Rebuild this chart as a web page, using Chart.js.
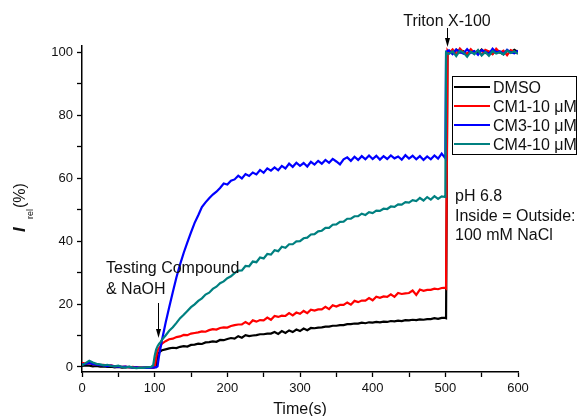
<!DOCTYPE html>
<html>
<head>
<meta charset="utf-8">
<script src="https://cdn.jsdelivr.net/npm/chart.js@4"></script>
<style>
    body { margin: 0; background: #fff; }
    #wrap { width: 577px; height: 416px; position: relative; }
</style>
</head>
<body>
<div id="wrap"><canvas id="chart"></canvas></div>
<script>
// time axis (s): baseline, compound addition, slow rise, Triton X-100 lysis
const timeS = [
    0, 5, 10, 15, 20, 25, 30, 35, 40, 45, 50, 55, 60, 65, 70, 75, 80, 85, 90, 95,
    98, 100, 102, 104, 106, 108, 110,
    115, 120, 125, 130, 135, 140, 145, 150, 155, 160,
    165, 170, 175, 180, 185, 190, 195, 200, 205, 210,
    215, 220, 225, 230, 235, 240, 245, 250, 255, 260,
    265, 270, 275, 280, 285, 290, 295, 300, 305, 310,
    315, 320, 325, 330, 335, 340, 345, 350, 355, 360,
    365, 370, 375, 380, 385, 390, 395, 400, 405, 410,
    415, 420, 425, 430, 435, 440, 445, 450, 455, 460,
    465, 470, 475, 480, 485, 490, 495,
    500, 501, 503,
    505, 510, 515, 520, 525, 530, 535, 540, 545, 550, 555, 560, 565, 570, 575, 580, 585, 590, 595, 600
];

const dmso = [
    0.3, 0.5, 0.4, 0.2, 0.3, 0.1, 0.2, 0.0, 0.1, -0.1, 0.0, -0.2, -0.1, 0.0, -0.2, -0.1, -0.3, -0.2, -0.1, -0.2,
    -0.2, -0.1, 0.5, 4.2, 4.6, 5.0, 5.3,
    5.6, 5.9, 6.1, 6.0, 6.4, 6.6, 6.5, 7.0, 7.1, 7.4,
    7.3, 7.8, 7.9, 8.1, 8.0, 8.6, 8.5, 8.9, 9.2, 9.0,
    9.8, 9.3, 10.1, 9.8, 10.0, 10.1, 10.4, 10.4, 10.6, 10.6,
    11.1, 10.5, 11.4, 10.8, 11.6, 11.1, 11.9, 11.4, 12.2, 11.7,
    12.4, 12.3, 12.5, 12.6, 12.8, 12.8, 13.1, 13.1, 13.3, 13.3,
    13.6, 13.6, 13.8, 13.8, 14.1, 13.9, 14.2, 14.1, 14.3, 14.2,
    14.4, 14.3, 14.6, 14.5, 14.7, 14.6, 14.9, 14.8, 15.0, 14.9,
    15.1, 15.0, 15.2, 15.2, 15.5, 15.3, 15.6,
    15.6, 15.5, 100.2,
    100.4, 99.6, 100.8, 99.9, 100.3, 99.2, 100.6, 100.1, 99.7, 100.9, 99.8, 100.2, 99.5, 100.7, 100.0, 99.4, 100.5, 99.9, 100.8, 100.1
];

const cm1 = [
    1.3, 1.1, 1.2, 0.9, 0.8, 0.6, 0.7, 0.4, 0.5, 0.2, 0.3, 0.0, 0.1, -0.1, 0.0, -0.2, -0.1, -0.3, -0.2, -0.1,
    -0.2, 0.0, 3.0, 5.2, 6.0, 6.6, 7.4,
    8.2, 8.8, 9.0, 9.5, 9.7, 10.2, 10.1, 10.6, 10.8, 11.0,
    11.3, 11.2, 11.7, 12.0, 11.9, 12.4, 12.6, 12.5, 13.0, 13.3,
    13.5, 13.5, 14.3, 13.6, 14.8, 14.4, 14.9, 14.8, 15.7, 15.0,
    16.2, 15.9, 16.3, 16.2, 17.1, 16.4, 17.3, 16.9, 17.8, 17.1,
    18.2, 17.9, 18.3, 18.3, 19.1, 18.4, 19.6, 19.2, 19.7, 19.7,
    20.5, 19.8, 21.0, 20.6, 21.1, 21.1, 21.9, 21.2, 22.3, 22.0,
    22.4, 22.3, 23.1, 22.3, 23.5, 23.2, 23.4, 23.5, 24.3, 22.9,
    24.6, 24.2, 24.5, 24.5, 24.9, 24.7, 25.1,
    25.2, 25.0, 100.5,
    99.8, 100.9, 99.3, 101.2, 100.0, 99.5, 101.0, 99.7, 100.6, 99.2, 100.8, 100.3, 99.4, 101.1, 99.9, 100.5, 99.1, 100.7, 100.2, 99.6
];

const cm3 = [
    0.8, 1.0, 1.3, 0.9, 0.7, 0.6, 0.5, 0.3, 0.4, 0.2, 0.1, 0.0, 0.1, -0.1, -0.2, -0.1, -0.3, -0.2, -0.3, -0.2,
    -0.2, -0.1, -0.1, 0.2, 3.5, 6.0, 8.5,
    14.0, 19.0, 23.8, 28.5, 32.6, 36.3, 39.6, 42.8, 45.8, 48.2,
    50.8, 52.3, 53.6, 54.8, 55.7, 56.9, 58.3, 58.0, 59.2, 59.6,
    60.8, 59.9, 61.3, 60.7, 61.8, 61.2, 62.6, 61.7, 63.1, 62.4,
    63.4, 62.5, 63.9, 63.1, 64.6, 63.6, 64.9, 63.9, 64.8, 63.7,
    65.2, 64.3, 65.5, 64.6, 65.8, 64.9, 66.1, 65.3, 64.4, 66.0,
    66.6, 65.5, 66.8, 65.8, 67.0, 66.0, 67.2, 66.1, 67.1, 65.9,
    67.0, 66.1, 67.2, 66.3, 66.9, 65.9, 67.3, 66.2, 67.1, 66.0,
    67.0, 65.8, 66.9, 66.0, 67.2, 66.2, 67.8,
    66.3, 100.0, 100.4,
    100.6, 99.4, 100.9, 100.1, 99.6, 101.0, 99.8, 100.4, 99.2, 100.7, 100.2, 99.5, 101.1, 99.9, 100.3, 99.4, 100.8, 100.0, 99.7, 100.5
];

const cm4 = [
    0.5, 1.2, 2.0, 1.4, 1.0, 0.8, 0.5, 0.7, 0.3, 0.2, 0.4, 0.0, -0.2, 0.1, -0.2, -0.4, -0.2, -0.3, -0.1, 0.0,
    0.6, 3.5, 5.5, 6.6, 7.3, 7.9, 8.6,
    10.0, 11.5, 12.6, 14.0, 15.5, 16.6, 17.8, 19.0, 19.9, 21.0,
    21.8, 23.0, 23.6, 24.8, 25.5, 26.6, 27.2, 28.2, 28.8, 29.8,
    30.6, 30.7, 32.1, 32.0, 33.5, 33.3, 34.8, 34.5, 35.9, 35.7,
    37.1, 36.8, 38.2, 37.9, 39.0, 39.0, 39.9, 40.0, 40.9, 41.1,
    42.1, 42.2, 43.1, 43.3, 44.2, 44.2, 45.2, 45.3, 46.1, 46.2,
    47.1, 47.1, 47.9, 47.9, 48.7, 48.3, 49.2, 48.9, 49.7, 49.6,
    50.3, 50.2, 51.0, 50.9, 51.7, 51.6, 52.4, 52.2, 53.0, 52.7,
    53.7, 52.9, 54.0, 53.2, 54.3, 53.4, 54.2,
    54.0, 100.0, 99.6,
    99.5, 100.3, 98.8, 100.5, 99.9, 98.6, 100.2, 99.4, 100.7, 99.0, 100.1, 98.9, 100.4, 99.6, 100.0, 99.3, 100.6, 99.8, 100.3, 99.5
];

const seriesNames = ['DMSO', 'CM1-10 \u03bcM', 'CM3-10 \u03bcM', 'CM4-10 \u03bcM'];
const seriesColors = ['#000000', '#ff0000', '#0000ff', '#008080'];
const seriesData = [dmso, cm1, cm3, cm4];
const drawOrder = [3, 2, 1, 0]; // CM4 on top

const xTicks = [0, 50, 100, 150, 200, 250, 300, 350, 400, 450, 500, 550, 600];
const yTicks = [0, 10, 20, 30, 40, 50, 60, 70, 80, 90, 100];

const FONT = 'Arial, "Liberation Sans", sans-serif';

function drawArrow(ctx, x, y1, y2) {
    ctx.beginPath();
    ctx.moveTo(x, y1);
    ctx.lineTo(x, y2 - 6);
    ctx.stroke();
    ctx.beginPath();
    ctx.moveTo(x - 2.5, y2 - 9);
    ctx.lineTo(x + 2.5, y2 - 9);
    ctx.lineTo(x, y2);
    ctx.closePath();
    ctx.fill();
}

const annotations = {
    id: 'annotations',
    afterDraw(chart) {
        const ctx = chart.ctx;
        ctx.save();
        ctx.fillStyle = '#111';
        ctx.strokeStyle = '#000';
        ctx.lineWidth = 1;
        ctx.font = '16px ' + FONT;
        ctx.textBaseline = 'alphabetic';

        // Triton X-100
        ctx.textAlign = 'center';
        ctx.fillText('Triton X-100', 447, 26);
        ctx.fillStyle = '#000';
        drawArrow(ctx, 447.5, 28, 47);

        // Testing compound
        ctx.fillStyle = '#111';
        ctx.textAlign = 'left';
        ctx.fillText('Testing Compound', 106, 273);
        ctx.fillText('& NaOH', 106, 294);
        ctx.fillStyle = '#000';
        drawArrow(ctx, 158.5, 303, 338);

        // conditions
        ctx.fillStyle = '#111';
        ctx.fillText('pH 6.8', 455, 201);
        ctx.fillText('Inside = Outside:', 455, 221);
        ctx.fillText('100 mM NaCl', 455, 240);

        // legend
        ctx.fillStyle = '#fff';
        ctx.fillRect(452, 76, 125, 79);
        ctx.strokeStyle = '#000';
        ctx.lineWidth = 1;
        ctx.strokeRect(452.5, 76.5, 124, 78);
        seriesNames.forEach((name, i) => {
            const y = 87 + i * 19;
            ctx.strokeStyle = seriesColors[i];
            ctx.lineWidth = 2.2;
            ctx.beginPath();
            ctx.moveTo(454, y);
            ctx.lineTo(490, y);
            ctx.stroke();
            ctx.fillStyle = '#111';
            ctx.fillText(name, 493, y + 6);
        });

        // axis titles
        ctx.fillStyle = '#111';
        ctx.textAlign = 'center';
        ctx.fillText('Time(s)', 300, 414);

        ctx.translate(25, 232);
        ctx.rotate(-Math.PI / 2);
        ctx.textAlign = 'left';
        ctx.font = 'italic bold 17px ' + FONT;
        ctx.fillText('I', 0, 0);
        ctx.font = '9px ' + FONT;
        ctx.fillText('rel', 13, 8);
        ctx.font = '16px ' + FONT;
        ctx.fillText('(%)', 24, 0);
        ctx.restore();
    }
};

const axisStyle = {
    border: { display: true, color: '#000', width: 1.5 },
    grid: { drawOnChartArea: false, drawTicks: true, tickLength: 5, tickColor: '#000', tickWidth: 1.3 }
};

new Chart(document.getElementById('chart'), {
    type: 'line',
    data: {
        datasets: seriesData.map((vals, i) => ({
            label: seriesNames[i],
            data: timeS.map((t, j) => ({ x: t, y: vals[j] })),
            borderColor: seriesColors[i],
            borderWidth: 2.2,
            pointRadius: 0,
            tension: 0,
            fill: false,
            order: drawOrder[i]
        }))
    },
    options: {
        responsive: true,
        maintainAspectRatio: false,
        animation: false,
        layout: { padding: { top: 46, right: 59, left: 0, bottom: 0 } },
        plugins: { legend: { display: false }, tooltip: { enabled: false } },
        scales: {
            x: {
                type: 'linear',
                min: 0,
                max: 600,
                ...axisStyle,
                afterBuildTicks: s => { s.ticks = xTicks.map(v => ({ value: v })); },
                afterFit: s => { s.height = 44; },
                ticks: {
                    autoSkip: false,
                    maxRotation: 0,
                    padding: 4,
                    color: '#111',
                    font: { family: FONT, size: 13 },
                    callback: v => (v % 100 === 0 ? v : '')
                }
            },
            y: {
                type: 'linear',
                min: -1.6,
                max: 102,
                ...axisStyle,
                afterBuildTicks: s => { s.ticks = yTicks.map(v => ({ value: v })); },
                afterFit: s => { s.width = 82; },
                ticks: {
                    autoSkip: false,
                    padding: 4,
                    color: '#111',
                    font: { family: FONT, size: 13 },
                    callback: v => (v % 20 === 0 ? v : '')
                }
            }
        }
    },
    plugins: [annotations]
});
</script>
</body>
</html>
